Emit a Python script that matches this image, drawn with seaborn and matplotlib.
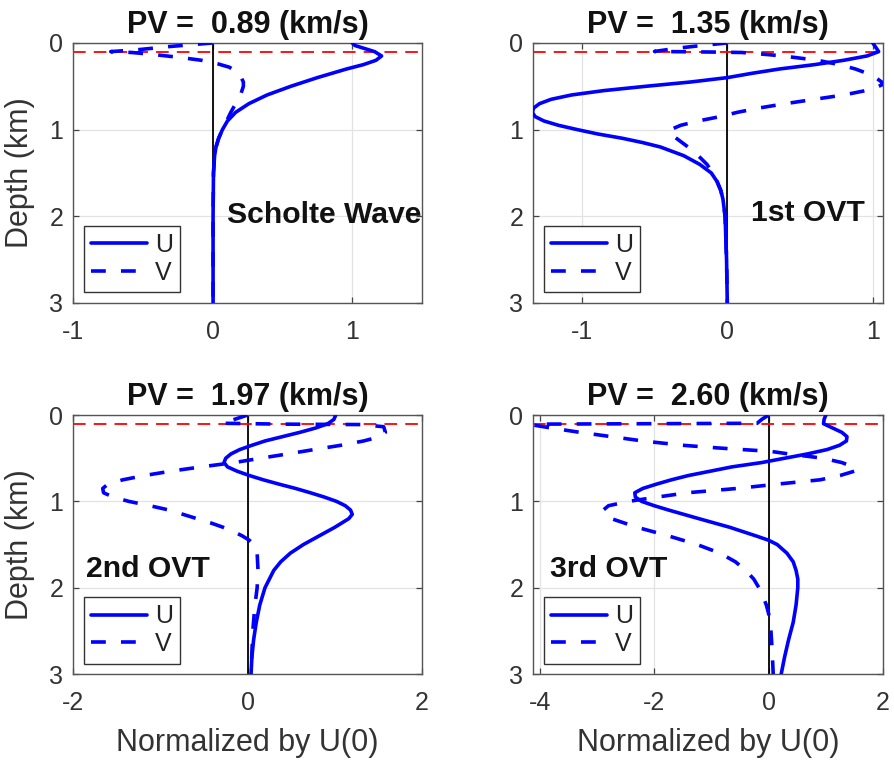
import matplotlib
matplotlib.use("Agg")
import matplotlib.pyplot as plt
import seaborn as sns

sns.set_theme(style="white")
plt.rcParams['font.family'] = ['Liberation Sans', 'DejaVu Sans']
plt.rcParams['axes.unicode_minus'] = False

# ---------------- eigenfunction profiles (normalized by U at the surface) ----------------
# Scholte wave, PV = 0.89 km/s
depth_u1 = [0, 0.03, 0.05, 0.1, 0.15, 0.2, 0.25, 0.3, 0.4, 0.5, 0.6, 0.7, 0.8, 0.9,
            1.0, 1.1, 1.2, 1.3, 1.5, 2.0, 2.5, 3.0]
u1 = [1.0, 1.02, 1.06, 1.16, 1.21, 1.17, 1.08, 0.96, 0.75, 0.56, 0.39, 0.26, 0.165, 0.106,
      0.07, 0.043, 0.024, 0.014, 0.006, 0.003, 0.003, 0.003]
depth_v1 = [0, 0.04, 0.077, 0.1, 0.11, 0.13, 0.17, 0.2, 0.24, 0.28, 0.35, 0.45, 0.5, 0.6,
            0.7, 0.8, 0.9, 1.0, 1.1, 1.2, 1.3, 1.5, 2.0, 2.5, 3.0]
v1 = [0, -0.30, -0.53, -0.73, -0.58, -0.44, -0.22, -0.08, 0.035, 0.12, 0.19, 0.22, 0.22, 0.20,
      0.165, 0.13, 0.10, 0.07, 0.043, 0.024, 0.014, 0.006, 0.003, 0.003, 0.003]

# 1st overtone, PV = 1.35 km/s
depth_u2 = [0, 0.05, 0.1, 0.15, 0.2, 0.25, 0.3, 0.35, 0.4, 0.45, 0.5, 0.55, 0.6, 0.65, 0.7,
            0.75, 0.8, 0.85, 0.9, 0.95, 1.0, 1.05, 1.1, 1.15, 1.2, 1.3, 1.4, 1.5, 1.6, 1.7,
            1.8, 2.0, 2.5, 3.0]
u2 = [1.0, 1.02, 1.04, 0.96, 0.80, 0.60, 0.36, 0.17, 0.0, -0.25, -0.56, -0.85, -1.07, -1.21,
      -1.29, -1.33, -1.34, -1.32, -1.26, -1.16, -1.03, -0.89, -0.72, -0.58, -0.46, -0.30,
      -0.19, -0.11, -0.07, -0.045, -0.03, -0.015, -0.005, 0.0]
depth_v2 = [0, 0.03, 0.06, 0.098, 0.105, 0.11, 0.13, 0.15, 0.2, 0.25, 0.3, 0.35, 0.4, 0.45,
            0.47, 0.5, 0.55, 0.6, 0.65, 0.7, 0.75, 0.8, 0.85, 0.9, 0.95, 1.0, 1.03, 1.05,
            1.1, 1.2, 1.3, 1.4, 1.5, 1.6, 1.7, 1.8, 2.0, 2.5, 3.0]
v2 = [0, -0.18, -0.34, -0.50, -0.10, 0.10, 0.25, 0.38, 0.62, 0.77, 0.88, 0.96, 1.02, 1.06,
      1.08, 1.04, 0.95, 0.80, 0.60, 0.40, 0.22, 0.07, -0.05, -0.2, -0.32, -0.39, -0.40, -0.39,
      -0.35, -0.27, -0.20, -0.14, -0.10, -0.07, -0.045, -0.03, -0.015, -0.005, 0.0]

# 2nd overtone, PV = 1.97 km/s
depth_u3 = [0, 0.05, 0.1, 0.15, 0.2, 0.25, 0.3, 0.35, 0.4, 0.45, 0.5, 0.55, 0.6, 0.65, 0.7,
            0.75, 0.8, 0.85, 0.9, 0.95, 1.0, 1.05, 1.1, 1.15, 1.2, 1.3, 1.4, 1.5, 1.6, 1.7,
            1.8, 2.0, 2.2, 2.4, 2.6, 2.8, 3.0]
u3 = [1.01, 0.99, 0.92, 0.78, 0.60, 0.40, 0.20, 0.05, -0.09, -0.19, -0.25, -0.27, -0.23,
      -0.12, 0.02, 0.18, 0.36, 0.55, 0.72, 0.88, 1.02, 1.12, 1.18, 1.20, 1.16, 1.00, 0.82,
      0.64, 0.49, 0.38, 0.30, 0.20, 0.14, 0.10, 0.07, 0.05, 0.04]
depth_v3 = [0, 0.05, 0.095, 0.105, 0.11, 0.135, 0.2, 0.25, 0.3, 0.35, 0.4, 0.45, 0.5, 0.55,
            0.6, 0.65, 0.7, 0.75, 0.8, 0.85, 0.9, 0.95, 1.0, 1.05, 1.1, 1.15, 1.2, 1.25, 1.3,
            1.35, 1.4, 1.45, 1.5, 1.6, 1.8, 2.0, 2.2, 2.5, 3.0]
v3 = [0, -0.15, -0.29, 0.4, 1.30, 1.56, 1.58, 1.52, 1.33, 1.07, 0.76, 0.46, 0.15, -0.15,
      -0.53, -0.88, -1.18, -1.43, -1.60, -1.66, -1.65, -1.54, -1.36, -1.12, -0.90, -0.74,
      -0.58, -0.42, -0.28, -0.16, -0.06, 0.02, 0.08, 0.11, 0.12, 0.11, 0.085, 0.06, 0.04]

# 3rd overtone, PV = 2.60 km/s
depth_u4 = [0, 0.05, 0.1, 0.15, 0.2, 0.25, 0.3, 0.35, 0.4, 0.45, 0.5, 0.55, 0.6, 0.65, 0.7,
            0.75, 0.8, 0.85, 0.9, 0.95, 1.0, 1.05, 1.1, 1.2, 1.3, 1.4, 1.45, 1.5, 1.6, 1.7,
            1.8, 1.9, 2.0, 2.2, 2.4, 2.6, 2.8, 3.0]
u4 = [1.0, 0.97, 0.96, 1.12, 1.28, 1.37, 1.36, 1.24, 1.02, 0.68, 0.28, -0.12, -0.64, -1.02,
      -1.40, -1.70, -1.96, -2.20, -2.34, -2.33, -2.22, -2.00, -1.75, -1.22, -0.68, -0.22,
      0.0, 0.15, 0.32, 0.43, 0.48, 0.51, 0.51, 0.48, 0.43, 0.35, 0.28, 0.22]
depth_v4 = [0, 0.05, 0.095, 0.105, 0.115, 0.15, 0.2, 0.25, 0.3, 0.35, 0.38, 0.4, 0.42, 0.45,
            0.5, 0.55, 0.6, 0.62, 0.65, 0.7, 0.75, 0.8, 0.85, 0.9, 0.95, 1.0, 1.05, 1.1, 1.15,
            1.2, 1.3, 1.4, 1.5, 1.6, 1.7, 1.8, 1.9, 2.0, 2.1, 2.2, 2.3, 2.5, 2.7, 3.0]
v4 = [0, -0.12, -0.20, -4.0, -4.12, -3.80, -3.30, -2.75, -2.20, -1.50, -0.90, -0.45, 0.03,
      0.35, 0.95, 1.28, 1.48, 1.54, 1.50, 1.25, 0.90, 0.15, -0.55, -1.42, -1.95, -2.45,
      -2.80, -2.89, -2.87, -2.75, -2.30, -1.75, -1.25, -0.85, -0.58, -0.40, -0.26, -0.17,
      -0.10, -0.04, 0.0, 0.04, 0.06, 0.08]

phase_velocities = [0.89, 1.35, 1.97, 2.60]
mode_names = ["Scholte Wave", "1st OVT", "2nd OVT", "3rd OVT"]
x_limits = [(-1.0, 1.5), (-1.335, 1.07), (-2.0, 2.0), (-4.12, 2.0)]
x_ticks = [[-1, 0, 1], [-1, 0, 1], [-2, 0, 2], [-4, -2, 0, 2]]
y_ticks = [0, 1, 2, 3]
water_depth = 0.1  # km

profiles = [(depth_u1, u1, depth_v1, v1), (depth_u2, u2, depth_v2, v2),
            (depth_u3, u3, depth_v3, v3), (depth_u4, u4, depth_v4, v4)]

# ---------------- figure ----------------
fig = plt.figure(figsize=(8.94, 7.63), dpi=100)
axes_rects = [[0.0817, 0.6029, 0.3904, 0.3408], [0.5962, 0.6029, 0.3915, 0.3408],
              [0.0817, 0.1166, 0.3904, 0.3394], [0.5962, 0.1166, 0.3915, 0.3394]]
label_pos = [(0.10, 1.99), (0.16, 1.96), (-1.85, 1.78), (-3.82, 1.78)]

text_gray = '#333333'
for i, rect in enumerate(axes_rects):
    ax = fig.add_axes(rect)
    du, u, dv, v = profiles[i]

    ax.axvline(0, color='black', lw=1.3, zorder=2)
    ax.axhline(water_depth, color='red', lw=1.3, ls=(0, (7, 4.5)), zorder=2.5)

    sns.lineplot(x=u, y=du, sort=False, estimator=None, ax=ax, color='#0000ff',
                 lw=2.6, label='U', zorder=3)
    sns.lineplot(x=v, y=dv, sort=False, estimator=None, ax=ax, color='#0000ff',
                 lw=2.6, label='V', zorder=3)
    ax.lines[-1].set_dashes((4.1, 4.2))

    ax.set_xlim(*x_limits[i])
    ax.set_ylim(3, 0)
    ax.set_xticks(x_ticks[i])
    ax.set_xticklabels([str(t) for t in x_ticks[i]])
    ax.set_yticks(y_ticks)
    ax.set_yticklabels([str(t) for t in y_ticks])

    ax.grid(True, color='#e3e3e3', lw=0.9, zorder=0)
    ax.set_axisbelow(True)
    for sp in ax.spines.values():
        sp.set_color('#555555')
        sp.set_linewidth(1.0)
        sp.set_visible(True)
    ax.tick_params(axis='both', direction='in', length=4, width=0.9, color='#444444',
                   labelsize=18, labelcolor=text_gray, top=True, right=True,
                   bottom=True, left=True)
    ax.tick_params(axis='x', pad=12)
    ax.tick_params(axis='y', pad=7)

    ax.set_title(f"PV =  {phase_velocities[i]:.2f} (km/s)", fontsize=22,
                 fontweight='bold', color='#111111', pad=7)
    x0, y0 = label_pos[i]
    ax.text(x0, y0, mode_names[i], fontsize=21.7, fontweight='bold', color='#111111',
            ha='left', va='center', zorder=4)

    if i % 2 == 0:
        ax.set_ylabel("Depth (km)", fontsize=22, color=text_gray, labelpad=10)
    else:
        ax.set_ylabel("")
    if i >= 2:
        ax.set_xlabel("Normalized by U(0)", fontsize=22, color=text_gray, labelpad=9.5)
    else:
        ax.set_xlabel("")

    leg = ax.legend(loc='lower left', fontsize=18, frameon=True, fancybox=False,
                    handlelength=2.25, handletextpad=0.3, labelspacing=0.15,
                    borderpad=0.3, borderaxespad=0.42)
    leg.get_frame().set_edgecolor('#333333')
    leg.get_frame().set_linewidth(1.0)
    leg.get_frame().set_alpha(1.0)
    for t in leg.get_texts():
        t.set_color('#222222')

fig.savefig("out.png", dpi=100, facecolor='white')
